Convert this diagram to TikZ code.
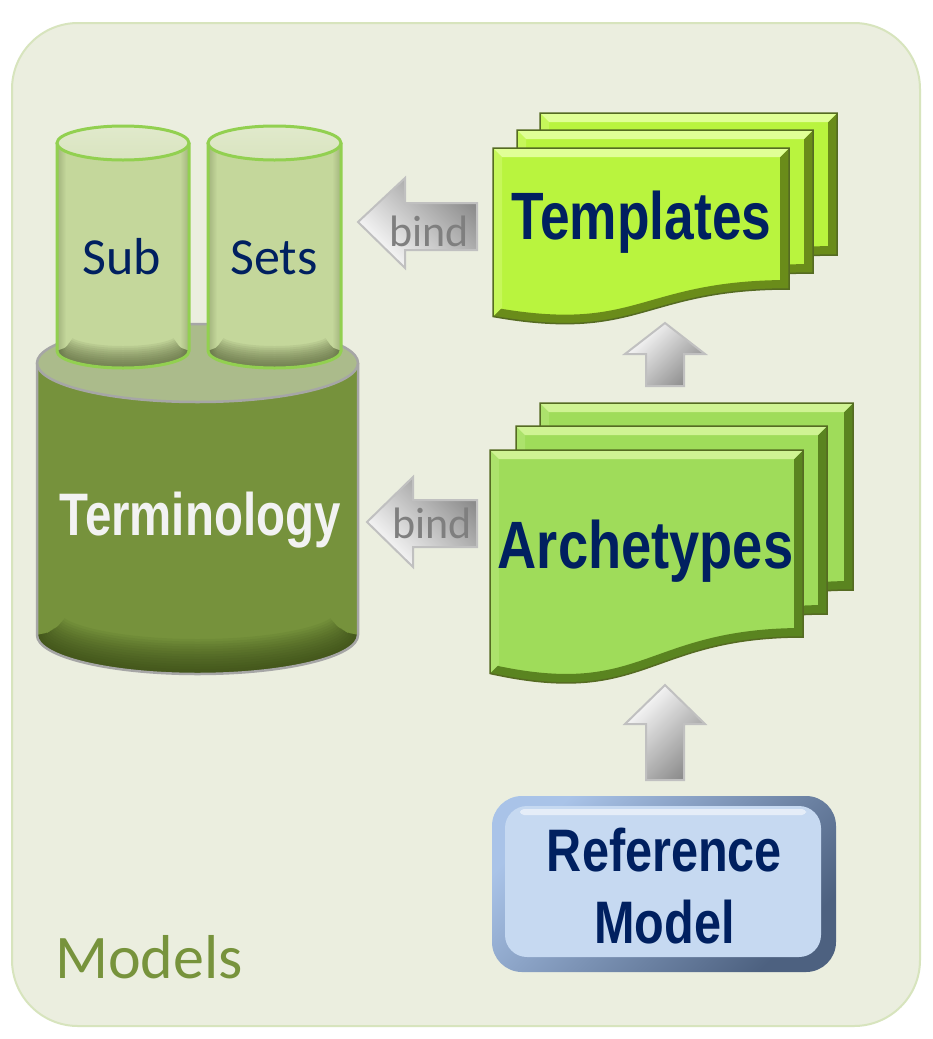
\documentclass[tikz,border=0pt]{standalone}
\usepackage{fontspec}
\setmainfont{Carlito}
\newfontfamily\headfont{Liberation Sans}
\usetikzlibrary{calc}

\definecolor{panel}{HTML}{EBEEDF}
\definecolor{panelline}{HTML}{D7E4BD}
\definecolor{bigtop}{HTML}{ABBB8B}
\definecolor{bigbody}{HTML}{76923C}
\definecolor{bigdark}{HTML}{2E3D10}
\definecolor{bigline}{HTML}{A6A6A6}
\definecolor{smallbody}{HTML}{C4D79B}
\definecolor{smalltop}{HTML}{D9E4BF}
\definecolor{smalldark}{HTML}{4E5A32}
\definecolor{smallline}{HTML}{92D050}
\definecolor{navy}{HTML}{002060}
\definecolor{termwhite}{HTML}{F2F2F2}
\definecolor{tempfill}{HTML}{B9F43E}
\definecolor{templight}{HTML}{E0FF96}
\definecolor{templeft}{HTML}{C6F75A}
\definecolor{tempdark}{HTML}{6A8C1A}
\definecolor{archfill}{HTML}{9FDC5A}
\definecolor{archlight}{HTML}{CFF393}
\definecolor{archleft}{HTML}{ACE26C}
\definecolor{archdark}{HTML}{5A8420}
\definecolor{pageline}{HTML}{556B22}
\definecolor{reflight}{HTML}{A9C3E8}
\definecolor{refdark}{HTML}{4D6180}
\definecolor{refinner}{HTML}{C6D9F1}
\definecolor{arrowline}{HTML}{C0C0C0}
\definecolor{arrowdark}{HTML}{8C8C8C}
\definecolor{bindgray}{HTML}{7F7F7F}
\definecolor{modelsgreen}{HTML}{77933C}

% outline of a "document" page: x, y (top left, y downwards), width, height at the right edge
\newcommand\docpath[4]{(#1,-#2) -- (#1+#3,-#2) -- (#1+#3,-#2-#4)
  .. controls (#1+0.5*#3,-#2-#4) and (#1+0.5*#3,-#2-1.38*#4) .. (#1,-#2-1.195*#4) -- cycle}

% a bevelled page: x, y, w, h, face, top edge, left edge, right/bottom edge
\newcommand\docpage[8]{%
  \begin{scope}
    \clip \docpath{#1}{#2}{#3}{#4};
    \fill[#5] \docpath{#1}{#2}{#3}{#4};
    \draw[#8, line width=18pt] (#1+#3,-#2-#4)
      .. controls (#1+0.5*#3,-#2-#4) and (#1+0.5*#3,-#2-1.38*#4) .. (#1,-#2-1.195*#4);
    \fill[#7] (#1,-#2) -- (#1+9,-#2-9) -- (#1+9,-#2-1.195*#4+9) -- (#1,-#2-1.195*#4) -- cycle;
    \fill[#8] (#1+#3,-#2) -- (#1+#3,-#2-#4) -- (#1+#3-9,-#2-#4+9) -- (#1+#3-9,-#2-9) -- cycle;
    \fill[#6] (#1,-#2) -- (#1+#3,-#2) -- (#1+#3-9,-#2-9) -- (#1+9,-#2-9) -- cycle;
  \end{scope}
  \draw[pageline, line width=1.5pt] \docpath{#1}{#2}{#3}{#4};
}

% small cylinder: centre x, x radius
\newcommand\smallcyl[2]{%
  \begin{scope}
    \clip (#1-#2,-143) -- (#1-#2,-351) arc[start angle=180, end angle=360, x radius=#2, y radius=17]
      -- (#1+#2,-143) arc[start angle=0, end angle=180, x radius=#2, y radius=17] -- cycle;
    \fill[smallbody] (#1-#2-2,-120) rectangle (#1+#2+2,-372);
    \shade[left color=smalldark!35!smallbody, right color=smallbody] (#1-#2-2,-120) rectangle (#1-#2+9,-372);
    \shade[right color=smalldark!35!smallbody, left color=smallbody] (#1+#2-9,-120) rectangle (#1+#2+2,-372);
    % shadow hugging the bottom rim
    \foreach \w in {4,8,...,44}
      \draw[smalldark, opacity=0.09, line width=\w pt] (#1-#2,-351)
        arc[start angle=180, end angle=360, x radius=#2, y radius=17];
  \end{scope}
  \draw[smallline, line width=3pt] (#1-#2,-143) -- (#1-#2,-351)
    arc[start angle=180, end angle=360, x radius=#2, y radius=17] -- (#1+#2,-143);
  \draw[smallline, line width=3pt, top color=smalltop!80!white, bottom color=smalltop]
    (#1,-143) ellipse[x radius=#2, y radius=17];
}

\tikzset{
  navytext/.style={text=navy, inner sep=0pt, anchor=base},
  headtext/.style={navytext, font=\headfont\bfseries\fontsize{67}{67}\selectfont},
  reftext/.style={navytext, font=\headfont\bfseries\fontsize{60}{60}\selectfont},
  cyltext/.style={navytext, font=\fontsize{52}{52}\selectfont},
  bindtext/.style={text=bindgray, inner sep=0pt, anchor=base, font=\fontsize{44}{44}\selectfont},
  blockarrow/.style={draw=arrowline, line width=2pt},
}

\begin{document}
\begin{tikzpicture}[x=1pt, y=1pt]
  \useasboundingbox (0,0) rectangle (933,-1039);
  \fill[white] (0,0) rectangle (933,-1039);

  % panel
  \draw[panelline, fill=panel, line width=2pt, rounded corners=66pt] (12,-23) rectangle (920,-1026);

  % terminology store
  \begin{scope}
    \clip (37,-363) -- (37,-635) arc[start angle=180, end angle=360, x radius=160.5, y radius=39]
      -- (358,-363) arc[start angle=0, end angle=180, x radius=160.5, y radius=39] -- cycle;
    \fill[bigbody] (30,-320) rectangle (365,-680);
    \foreach \w in {5,10,...,70}
      \draw[bigdark, opacity=0.07, line width=\w pt] (37,-635)
        arc[start angle=180, end angle=360, x radius=160.5, y radius=39];
  \end{scope}
  \draw[bigline, line width=2.5pt] (37,-363) -- (37,-635)
    arc[start angle=180, end angle=360, x radius=160.5, y radius=39] -- (358,-363);
  \draw[bigline, line width=2.5pt, fill=bigtop] (197.5,-363) ellipse[x radius=160.5, y radius=39];

  \smallcyl{123}{66}
  \smallcyl{274.5}{66.5}

  \node[cyltext] (sub) at (122,-274) {Sub};
  \node[cyltext] (sets) at (274,-274) {Sets};
  \node[inner sep=0pt, anchor=base, text=termwhite,
        font=\headfont\bfseries\fontsize{60}{60}\selectfont] (term) at (200,-535)
        {\scalebox{0.79}[1]{Terminology}};

  % template pages
  \docpage{540}{113}{297}{142}{tempfill}{templight}{templeft}{tempdark}
  \docpage{517}{130}{296}{143}{tempfill}{templight}{templeft}{tempdark}
  \docpage{493}{148}{296}{141}{tempfill}{templight}{templeft}{tempdark}
  \node[headtext] (templates) at (641.5,-239) {\scalebox{0.795}[1]{Templates}};

  % archetype pages
  \docpage{540}{403}{313}{187}{archfill}{archlight}{archleft}{archdark}
  \docpage{516}{426}{311}{188}{archfill}{archlight}{archleft}{archdark}
  \docpage{490}{450}{313}{187}{archfill}{archlight}{archleft}{archdark}
  \node[headtext] (archetypes) at (645.5,-568) {\scalebox{0.81}[1]{Archetypes}};

  % reference model button
  \shade[rounded corners=30pt, top color=reflight, bottom color=refdark, shading angle=45]
    (492,-796) rectangle (836,-972);
  \fill[refinner, rounded corners=22pt] (505,-806) rectangle (821,-957);
  \fill[white, opacity=0.55, rounded corners=4pt] (520,-809) rectangle (806,-815);
  \node[reftext] (reference) at (664.5,-871) {\scalebox{0.81}[1]{Reference}};
  \node[reftext] (model) at (664.5,-943) {\scalebox{0.81}[1]{Model}};

  % block arrows
  \path[blockarrow, top color=white, middle color=white!88!black, bottom color=arrowdark, shading angle=45]
    (665,-323) -- (705,-354) -- (684,-354) -- (684,-386) -- (646,-386) -- (646,-354) -- (625,-354) -- cycle;
  \path[blockarrow, top color=white, middle color=white!88!black, bottom color=arrowdark, shading angle=45]
    (665,-685) -- (705,-724) -- (684,-724) -- (684,-780) -- (646,-780) -- (646,-724) -- (625,-724) -- cycle;
  \path[blockarrow, top color=arrowdark, middle color=white!90!black, bottom color=white, shading angle=-45]
    (358,-222) -- (405,-178) -- (405,-203) -- (477,-203) -- (477,-250) -- (405,-250) -- (405,-268) -- cycle;
  \path[blockarrow, top color=arrowdark, middle color=white!90!black, bottom color=white, shading angle=-45]
    (367,-522) -- (413,-477) -- (413,-500) -- (477,-500) -- (477,-547) -- (413,-547) -- (413,-567) -- cycle;
  \node[bindtext] (bind1) at (429,-246) {bind};
  \node[bindtext] (bind2) at (432,-538) {bind};

  % panel caption
  \node[inner sep=0pt, anchor=base, text=modelsgreen, font=\fontsize{62}{62}\selectfont]
    (models) at (149,-978) {Models};
\end{tikzpicture}
\end{document}
